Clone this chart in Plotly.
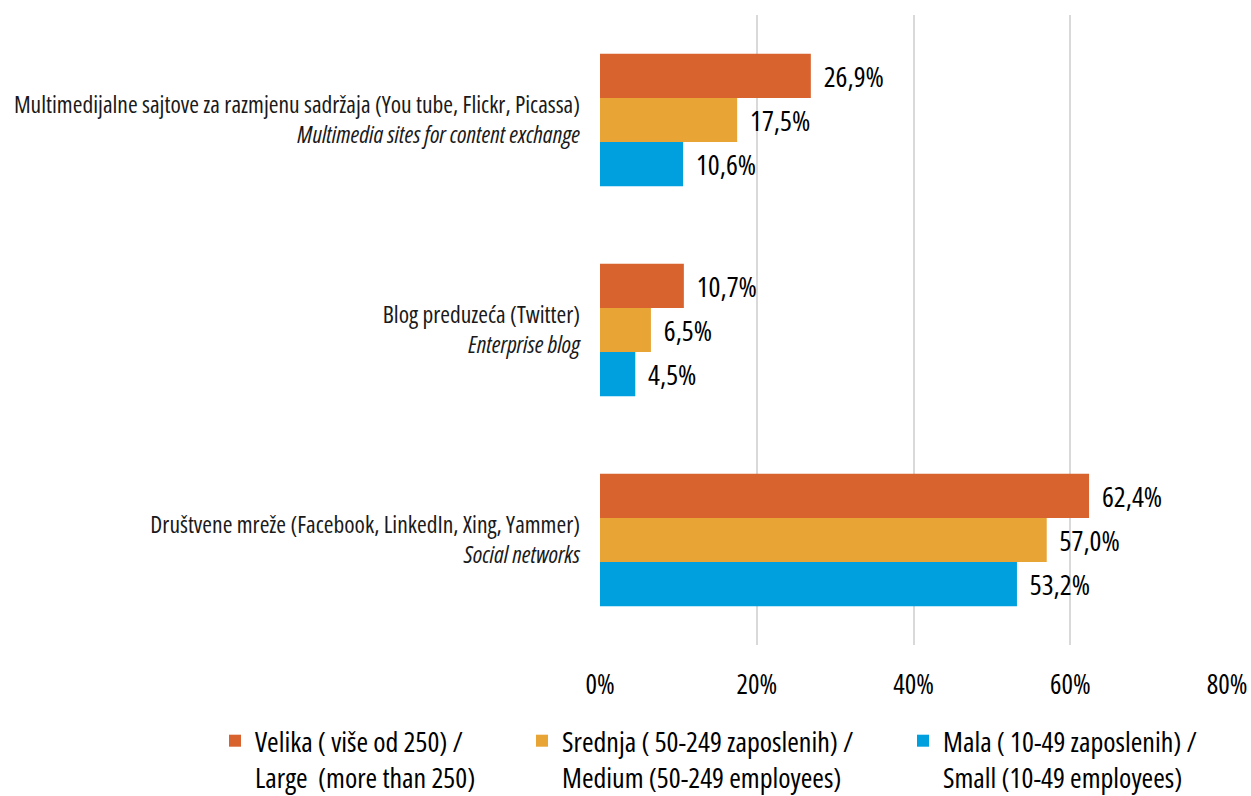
import plotly.graph_objects as go

# Category labels (top to bottom): local name + English name
cat_local = [
    "Multimedijalne sajtove za razmjenu sadržaja (You tube, Flickr, Picassa)",
    "Blog preduzeća (Twitter)",
    "Društvene mreže (Facebook, LinkedIn, Xing, Yammer)",
]
cat_english = [
    "Multimedia sites for content exchange",
    "Enterprise blog",
    "Social networks",
]

# Series names (two lines each)
series_local = [
    "Velika ( više od 250) /",
    "Srednja ( 50-249 zaposlenih) /",
    "Mala ( 10-49 zaposlenih) /",
]
series_english = [
    "Large  (more than 250)",
    "Medium (50-249 employees)",
    "Small (10-49 employees)",
]

# Shares of enterprises, %
velika = [26.9, 10.7, 62.4]
srednja = [17.5, 6.5, 57.0]
mala = [10.6, 4.5, 53.2]

x_ticks = [0, 20, 40, 60, 80]

colors = ["#D9632E", "#E8A536", "#00A0DF"]
FONT = "Open Sans, Roboto, sans-serif"


def cond(s):
    """Wrap text in a condensed-width span."""
    return f"<span style='font-stretch:condensed'>{s}</span>"


categories = [f"{cond(a)}<br>{cond('<i>' + b + '</i>')}" for a, b in zip(cat_local, cat_english)]
names = [f"{cond(a)}<br>{cond(b)}" for a, b in zip(series_local, series_english)]

legend_x = [215, 522, 903]  # legend left edges in px

fig = go.Figure()
for i, (name, vals) in enumerate(zip(names, [velika, srednja, mala])):
    fig.add_trace(go.Bar(
        y=categories,
        x=vals,
        name=name,
        orientation="h",
        marker=dict(color=colors[i], line=dict(width=0)),
        texttemplate=cond("\u00a0\u2009%{x:.1f}%"),
        textposition="outside",
        textfont=dict(size=28, color="#000000", family=FONT),
        cliponaxis=False,
        legend="legend" if i == 0 else f"legend{i + 1}",
    ))

legend_common = dict(
    orientation="h",
    xref="container",
    yref="container",
    yanchor="top",
    y=1 - 716 / 796,
    valign="top",
    font=dict(size=28, color="#000000", family=FONT),
    bgcolor="rgba(0,0,0,0)",
)

fig.update_layout(
    width=1251,
    height=796,
    margin=dict(l=600, r=24, t=15, b=151),
    paper_bgcolor="white",
    plot_bgcolor="white",
    separators=", ",
    barmode="group",
    bargap=0.37,
    bargroupgap=0,
    font=dict(family=FONT, color="#000000"),
    xaxis=dict(
        range=[0, 80],
        tickvals=x_ticks,
        ticktext=[cond(f"{v}%") for v in x_ticks],
        showgrid=True,
        gridcolor="#D9D9D9",
        gridwidth=1.5,
        zeroline=False,
        showline=False,
        ticks="",
        tickfont=dict(size=27, color="#000000", family=FONT),
        ticklabelstandoff=21,
        automargin=False,
        fixedrange=True,
    ),
    yaxis=dict(
        autorange="reversed",
        showgrid=False,
        zeroline=False,
        showline=False,
        ticks="",
        tickfont=dict(size=23.5, color="#1A1A1A", family=FONT),
        ticklabelstandoff=19,
        automargin=False,
    ),
    legend=dict(legend_common, x=legend_x[0] / 1251),
    legend2=dict(legend_common, x=legend_x[1] / 1251),
    legend3=dict(legend_common, x=legend_x[2] / 1251),
    showlegend=True,
)

fig.write_html("out.html")
